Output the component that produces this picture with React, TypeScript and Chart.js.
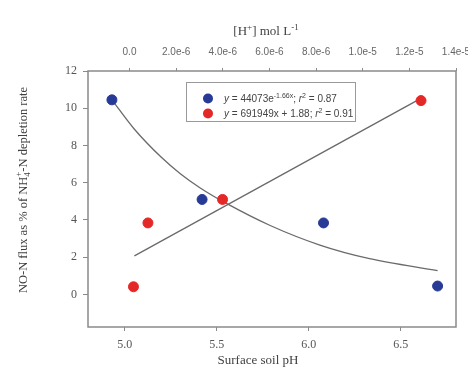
import React, { useEffect, useRef } from "react";
import { Chart, registerables } from "chart.js";

Chart.register(...registerables);

// ---- data ----
const phTicks = [5.0, 5.5, 6.0, 6.5];
const hTicks = [0, 2e-6, 4e-6, 6e-6, 8e-6, 1e-5, 1.2e-5, 1.4e-5];
const hTickLabels = ["0.0", "2.0e-6", "4.0e-6", "6.0e-6", "8.0e-6", "1.0e-5", "1.2e-5", "1.4e-5"];
const yTicks = [0, 2, 4, 6, 8, 10, 12];

// blue: NO-N flux vs surface soil pH (bottom axis)
const bluePH = [4.93, 5.42, 6.08, 6.7];
const blueY = [10.45, 5.1, 3.84, 0.45];

// blue exponential fit curve
const curvePH = [4.93, 5.05, 5.2, 5.3, 5.41, 5.55, 5.79, 6.06, 6.33, 6.7];
const curveY = [10.45, 8.9, 7.35, 6.5, 5.72, 4.9, 3.7, 2.65, 1.92, 1.28];

// red: NO-N flux vs [H+] (top axis)
const redH = [1.7e-7, 7.9e-7, 3.99e-6, 1.25e-5];
const redY = [0.41, 3.84, 5.1, 10.41];

// red linear fit line end points
const fitH = [2.1e-7, 1.232e-5];
const fitY = [2.07, 10.41];

const BLUE = "rgb(38,58,150)";
const RED = "rgb(228,40,40)";
const SERIF = "'Liberation Serif', 'Times New Roman', serif";
const SANS = "'Liberation Sans', Arial, sans-serif";

type Piece = { t?: string; sup?: string; sub?: string; italic?: boolean };

const yTitle: Piece[] = [{ t: "NO-N flux as % of NH" }, { sub: "4", sup: "+" }, { t: "-N depletion rate" }];
const topTitle: Piece[] = [{ t: "[H" }, { sup: "+" }, { t: "] mol L" }, { sup: "-1" }];
const bottomTitle: Piece[] = [{ t: "Surface soil pH" }];
const legendBlue: Piece[] = [
  { t: "y", italic: true }, { t: " = 44073e" }, { sup: "-1.66x" }, { t: "; " },
  { t: "r", italic: true }, { sup: "2" }, { t: " = 0.87" },
];
const legendRed: Piece[] = [
  { t: "y", italic: true }, { t: " = 691949x + 1.88; " },
  { t: "r", italic: true }, { sup: "2" }, { t: " = 0.91" },
];

function rich(ctx: CanvasRenderingContext2D, pieces: Piece[], x: number, y: number, size: number, family: string, draw: boolean): number {
  let cx = x;
  for (const p of pieces) {
    if (p.t !== undefined) {
      ctx.font = `${p.italic ? "italic " : ""}${size}px ${family}`;
      if (draw) ctx.fillText(p.t, cx, y);
      cx += ctx.measureText(p.t).width;
    } else {
      const s = Math.round(size * 0.68);
      ctx.font = `${s}px ${family}`;
      let w = 0;
      if (p.sup) {
        if (draw) ctx.fillText(p.sup, cx, y - size * 0.42);
        w = Math.max(w, ctx.measureText(p.sup).width);
      }
      if (p.sub) {
        if (draw) ctx.fillText(p.sub, cx, y + size * 0.28);
        w = Math.max(w, ctx.measureText(p.sub).width);
      }
      cx += w;
    }
  }
  return cx - x;
}

const decorPlugin = {
  id: "decor",
  afterDatasetsDraw(chart: any) {
    const ctx: CanvasRenderingContext2D = chart.ctx;
    const a = chart.chartArea;
    ctx.save();
    // frame
    ctx.strokeStyle = "#8a8a8a";
    ctx.lineWidth = 1.5;
    ctx.strokeRect(a.left, a.top, a.right - a.left, a.bottom - a.top);

    // legend box
    const lx = 186, ly = 82, lw = 169, lh = 39;
    ctx.fillStyle = "#ffffff";
    ctx.fillRect(lx, ly, lw, lh);
    ctx.strokeStyle = "#9a9a9a";
    ctx.lineWidth = 1;
    ctx.strokeRect(lx + 0.5, ly + 0.5, lw, lh);
    ctx.fillStyle = BLUE;
    ctx.beginPath(); ctx.arc(208, 98.5, 5, 0, Math.PI * 2); ctx.fill();
    ctx.fillStyle = RED;
    ctx.beginPath(); ctx.arc(208, 113.5, 5, 0, Math.PI * 2); ctx.fill();
    ctx.fillStyle = "#444";
    ctx.textBaseline = "alphabetic";
    rich(ctx, legendBlue, 224, 102, 10, SANS, true);
    rich(ctx, legendRed, 224, 117, 10, SANS, true);
    ctx.restore();
  },
  afterDraw(chart: any) {
    const ctx: CanvasRenderingContext2D = chart.ctx;
    ctx.save();
    ctx.fillStyle = "#3f3f3f";
    ctx.textBaseline = "alphabetic";
    // top title
    let w = rich(ctx, topTitle, 0, 0, 13, SERIF, false);
    rich(ctx, topTitle, 266 - w / 2, 35, 13, SERIF, true);
    // bottom title
    w = rich(ctx, bottomTitle, 0, 0, 13, SERIF, false);
    rich(ctx, bottomTitle, 258 - w / 2, 364, 13, SERIF, true);
    // y title (rotated)
    ctx.translate(22, 190);
    ctx.rotate(-Math.PI / 2);
    w = rich(ctx, yTitle, 0, 0, 12.5, SERIF, false);
    rich(ctx, yTitle, -w / 2, 4.5, 12.5, SERIF, true);
    ctx.restore();
  },
};

export default function App() {
  const ref = useRef<HTMLCanvasElement | null>(null);

  useEffect(() => {
    if (!ref.current) return;
    const tickColor = "#8a8a8a";
    const chart = new Chart(ref.current, {
      type: "scatter",
      data: {
        datasets: [
          {
            label: "blue",
            data: bluePH.map((x, i) => ({ x, y: blueY[i] })),
            xAxisID: "x",
            backgroundColor: BLUE,
            borderColor: BLUE,
            pointRadius: 5,
            order: 0,
          },
          {
            label: "red",
            data: redH.map((x, i) => ({ x, y: redY[i] })),
            xAxisID: "x2",
            backgroundColor: RED,
            borderColor: RED,
            pointRadius: 5,
            order: 0,
          },
          {
            type: "line",
            label: "exp fit",
            data: curvePH.map((x, i) => ({ x, y: curveY[i] })),
            xAxisID: "x",
            borderColor: "#6a6a6a",
            borderWidth: 1.3,
            pointRadius: 0,
            cubicInterpolationMode: "monotone",
            fill: false,
            order: 1,
          },
          {
            type: "line",
            label: "linear fit",
            data: fitH.map((x, i) => ({ x, y: fitY[i] })),
            xAxisID: "x2",
            borderColor: "#6a6a6a",
            borderWidth: 1.3,
            pointRadius: 0,
            fill: false,
            order: 1,
          },
        ] as any,
      },
      options: {
        responsive: false,
        animation: false,
        devicePixelRatio: 1,
        layout: { padding: { left: 0, right: 34, top: 0, bottom: 0 } },
        plugins: { legend: { display: false }, tooltip: { enabled: false } },
        scales: {
          x: {
            type: "linear",
            position: "bottom",
            min: 4.8,
            max: 6.8,
            afterBuildTicks: (s: any) => { s.ticks = phTicks.map((v) => ({ value: v })); },
            afterFit: (s: any) => { s.height = 40; },
            border: { display: false },
            grid: { drawOnChartArea: false, drawTicks: true, tickLength: 4, color: tickColor },
            ticks: {
              padding: 7,
              color: "#555",
              font: { family: SERIF, size: 12 },
              maxRotation: 0,
              callback: (v: any) => Number(v).toFixed(1),
            },
          },
          x2: {
            type: "linear",
            position: "top",
            min: -1.78e-6,
            max: 1.4e-5,
            afterBuildTicks: (s: any) => { s.ticks = hTicks.map((v) => ({ value: v })); },
            afterFit: (s: any) => { s.height = 71; },
            border: { display: false },
            grid: { drawOnChartArea: false, drawTicks: true, tickLength: 3, color: tickColor },
            ticks: {
              padding: 10,
              color: "#666",
              font: { family: SANS, size: 10 },
              maxRotation: 0,
              autoSkip: false,
              callback: (_v: any, i: number) => hTickLabels[i],
            },
          },
          y: {
            type: "linear",
            position: "left",
            min: -1.75,
            max: 12,
            afterBuildTicks: (s: any) => { s.ticks = yTicks.map((v) => ({ value: v })); },
            afterFit: (s: any) => { s.width = 88; },
            border: { display: false },
            grid: { drawOnChartArea: false, drawTicks: true, tickLength: 5, color: tickColor },
            ticks: {
              padding: 6,
              color: "#555",
              font: { family: SERIF, size: 12 },
              callback: (v: any) => String(v),
            },
          },
        },
      } as any,
      plugins: [decorPlugin],
    });
    return () => chart.destroy();
  }, []);

  return (
    <div style={{ position: "absolute", left: 0, top: 0, width: 468, height: 367, overflow: "hidden", background: "#fff" }}>
      <canvas ref={ref} width={490} height={367} style={{ display: "block", width: 490, height: 367 }} />
    </div>
  );
}
